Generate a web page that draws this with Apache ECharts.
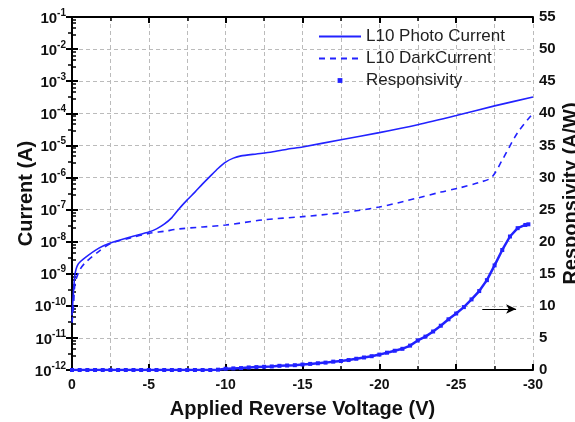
<!DOCTYPE html>
<html>
<head>
<meta charset="utf-8">
<script src="https://cdn.jsdelivr.net/npm/echarts@6/dist/echarts.min.js"></script>
<style>
  html, body { margin: 0; padding: 0; background: #fff; }
  #main { width: 575px; height: 422px; }
</style>
</head>
<body>
<div id="main"></div>
<script>
// photo current (solid), reverse voltage in V, current in A
const photoV = [0, -0.1, -0.2, -0.4, -0.9, -1.75, -2.5, -3.8, -5, -5.5, -6, -6.5, -7, -7.5, -8, -8.5, -9, -9.5, -10, -10.5, -11, -12, -13, -14, -15, -17.5, -20, -22.5, -25, -27.5, -30];
const photoI = [5e-11, 3e-10, 1e-9, 2e-9, 3.3e-9, 6.3e-9, 9.1e-9, 1.4e-8, 2e-8, 2.5e-8, 3.5e-8, 5.6e-8, 1.1e-7, 2e-7, 3.5e-7, 6.3e-7, 1.1e-6, 1.9e-6, 3e-6, 4e-6, 4.7e-6, 5.4e-6, 6.2e-6, 7.6e-6, 8.9e-6, 1.5e-5, 2.5e-5, 4.4e-5, 8.5e-5, 1.7e-4, 3.2e-4];

// dark current (dashed)
const darkV = [0, -0.1, -0.2, -0.5, -0.9, -1.75, -2.5, -3.8, -5, -6, -7, -10, -12.5, -15, -17.5, -20, -22.5, -24, -25.2, -26.5, -27.3, -28, -29, -30];
const darkI = [3e-11, 1e-10, 5e-10, 1.3e-9, 2.3e-9, 5e-9, 8.7e-9, 1.3e-8, 1.8e-8, 2.1e-8, 2.5e-8, 3.3e-8, 4.8e-8, 6e-8, 7.9e-8, 1.2e-7, 2.3e-7, 3.5e-7, 4.7e-7, 7e-7, 1e-6, 3.5e-6, 2.5e-5, 1e-4];

// responsivity (A/W), right axis
const respV = [0, -0.5, -1, -1.5, -2, -2.5, -3, -3.5, -4, -4.5, -5, -5.5, -6, -6.5, -7, -7.5, -8, -8.5, -9,
  -9.5, -10, -10.5, -11, -11.5, -12, -12.5, -13, -13.5, -14, -14.5, -15, -15.5, -16, -16.5, -17, -17.5,
  -18, -18.5, -19, -19.5, -20, -20.5, -21, -21.5, -22, -22.5, -23, -23.5, -24, -24.5, -25, -25.5, -26,
  -26.5, -27, -27.5, -28, -28.5, -29, -29.5, -29.7];
const respR = [0, 0, 0, 0, 0, 0, 0, 0, 0, 0, 0, 0, 0, 0, 0, 0, 0, 0, 0,
  0.05, 0.2, 0.25, 0.3, 0.4, 0.45, 0.5, 0.55, 0.65, 0.7, 0.75, 0.85, 0.95, 1.05, 1.15, 1.3, 1.4,
  1.55, 1.75, 1.95, 2.15, 2.4, 2.7, 3.0, 3.3, 3.8, 4.6, 5.2, 6.0, 6.9, 7.9, 8.8, 9.8, 11.0,
  12.3, 14.0, 16.3, 18.7, 20.8, 22.1, 22.6, 22.7];

// annotation arrow pointing to the right axis
const arrowFrom = [-26.7, 9.5];
const arrowTo = [-28.9, 9.5];

const seriesNames = ['L10 Photo Current', 'L10 DarkCurrent', 'Responsivity'];

const zip = (xs, ys) => xs.map((x, i) => [x, ys[i]]);

const blue = '#2222ff';
const font = 'Liberation Sans, Arial, sans-serif';

const chart = echarts.init(document.getElementById('main'));

const xCommon = {
  type: 'value',
  min: -30,
  max: 0,
  interval: 5,
  inverse: true,
  axisLine: { onZero: false, lineStyle: { color: '#000', width: 2 } },
  axisTick: { inside: true, length: 6, lineStyle: { color: '#000', width: 2 } },
  minorTick: { show: true, splitNumber: 2, length: 4, lineStyle: { color: '#000', width: 1.5 } }
};

const options = {
  animation: false,
  backgroundColor: '#fff',
  grid: { left: 72, right: 42, top: 17, bottom: 52, containLabel: false, outerBoundsMode: 'none' },
  legend: {
    data: [
      { name: seriesNames[0], itemStyle: { opacity: 0 } },
      { name: seriesNames[1], itemStyle: { opacity: 0 } },
      { name: seriesNames[2], lineStyle: { opacity: 0 } }
    ],
    orient: 'vertical',
    left: 318,
    top: 28,
    padding: 0,
    itemWidth: 42,
    itemHeight: 6,
    itemGap: 5,
    textStyle: { fontFamily: font, fontSize: 17, color: '#222' }
  },
  xAxis: [
    Object.assign({}, xCommon, {
      position: 'bottom',
      name: 'Applied Reverse Voltage (V)',
      nameLocation: 'middle',
      nameGap: 29,
      nameMoveOverlap: false,
      nameTextStyle: { fontFamily: font, fontSize: 20, fontWeight: 'bold', color: '#111' },
      axisLabel: { fontFamily: font, fontSize: 14, fontWeight: 'bold', color: '#111', margin: 8 },
      splitLine: { show: true, lineStyle: { color: '#bbb', type: [4, 3], width: 1 } },
      minorSplitLine: { show: true, lineStyle: { color: '#bbb', type: [4, 3], width: 1 } }
    }),
    Object.assign({}, xCommon, {
      position: 'top',
      axisLabel: { show: false },
      splitLine: { show: false }
    })
  ],
  yAxis: [
    {
      type: 'log',
      logBase: 10,
      min: 1e-12,
      max: 1e-1,
      interval: 1,
      position: 'left',
      name: 'Current (A)',
      nameLocation: 'middle',
      nameGap: 36,
      nameMoveOverlap: false,
      nameTextStyle: { fontFamily: font, fontSize: 20, fontWeight: 'bold', color: '#111' },
      axisLine: { show: true, lineStyle: { color: '#000', width: 2 } },
      axisTick: { inside: true, length: 6, lineStyle: { color: '#000', width: 2 } },
      minorTick: { show: true, splitNumber: 5, length: 4, lineStyle: { color: '#000', width: 1.5 } },
      splitLine: { show: true, lineStyle: { color: '#bbb', type: [4, 3], width: 1 } },
      axisLabel: {
        margin: 6,
        formatter: function (v) {
          const e = Math.round(Math.log10(v));
          return '{b|10}{s|' + e + '}';
        },
        rich: {
          b: { fontFamily: font, fontSize: 15, fontWeight: 'bold', color: '#111', verticalAlign: 'bottom' },
          s: { fontFamily: font, fontSize: 10, fontWeight: 'bold', color: '#111', verticalAlign: 'bottom', padding: [0, 0, 8, 0] }
        }
      }
    },
    {
      type: 'value',
      min: 0,
      max: 55,
      interval: 5,
      position: 'right',
      name: 'Responsivity (A/W)',
      nameLocation: 'middle',
      nameGap: 28,
      nameMoveOverlap: false,
      nameTextStyle: { fontFamily: font, fontSize: 20, fontWeight: 'bold', color: '#111' },
      axisLine: { show: true, lineStyle: { color: '#000', width: 2 } },
      axisTick: { inside: true, length: 6, lineStyle: { color: '#000', width: 2 } },
      minorTick: { show: true, splitNumber: 2, length: 4, lineStyle: { color: '#000', width: 1.5 } },
      splitLine: { show: false },
      axisLabel: { fontFamily: font, fontSize: 15, fontWeight: 'bold', color: '#111', margin: 6 }
    }
  ],
  series: [
    {
      name: seriesNames[0],
      type: 'line',
      xAxisIndex: 0,
      yAxisIndex: 0,
      data: zip(photoV, photoI),
      smooth: 0.2,
      symbol: 'none',
      color: blue,
      lineStyle: { color: blue, width: 1.6 }
    },
    {
      name: seriesNames[1],
      type: 'line',
      xAxisIndex: 0,
      yAxisIndex: 0,
      data: zip(darkV, darkI),
      smooth: 0.3,
      symbol: 'none',
      color: blue,
      lineStyle: { color: blue, width: 1.6, type: [6, 5] }
    },
    {
      name: seriesNames[2],
      type: 'line',
      xAxisIndex: 0,
      yAxisIndex: 1,
      data: zip(respV, respR),
      symbol: 'rect',
      symbolSize: 4,
      showAllSymbol: true,
      color: blue,
      itemStyle: { color: blue },
      lineStyle: { color: blue, width: 2.5 },
      markLine: {
        silent: true,
        symbol: ['none', 'arrow'],
        symbolSize: [7, 10],
        label: { show: false },
        lineStyle: { color: '#000', width: 1, type: 'solid' },
        data: [[{ coord: arrowFrom }, { coord: arrowTo }]]
      }
    }
  ]
};

chart.setOption(options);
</script>
</body>
</html>
